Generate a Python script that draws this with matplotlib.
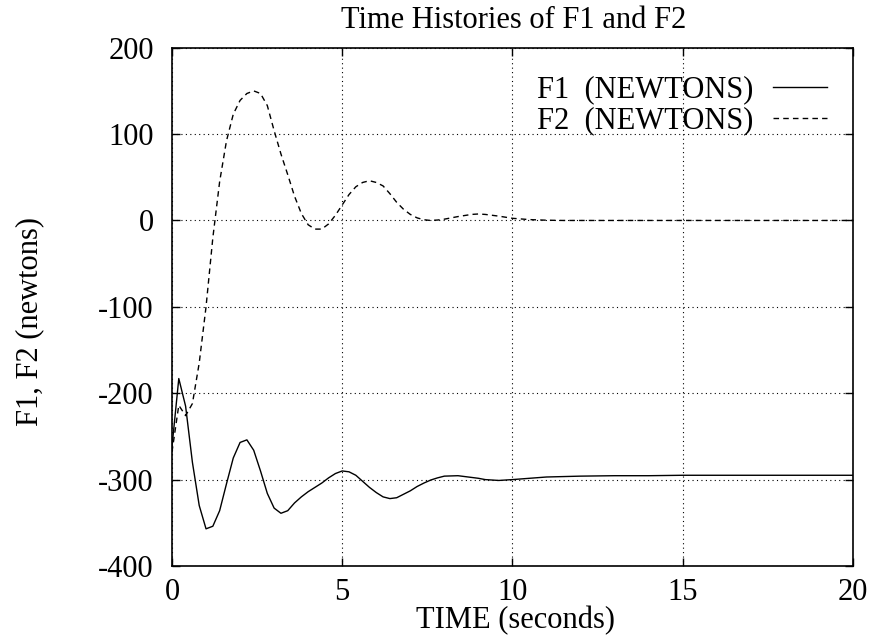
import matplotlib
matplotlib.use("Agg")
from matplotlib import pyplot as plt

# time points (seconds)
t = [0, 0.2, 0.4, 0.6, 0.8, 1.0, 1.2, 1.4, 1.6, 1.8, 2.0, 2.2, 2.4, 2.6, 2.8,
     3.0, 3.2, 3.4, 3.6, 3.8, 4.0, 4.2, 4.4, 4.6, 4.8, 5.0, 5.2, 5.4, 5.6, 5.8,
     6.0, 6.2, 6.4, 6.6, 6.8, 7.0, 7.2, 7.4, 7.6, 7.8, 8.0, 8.4, 8.8, 9.0, 9.2,
     9.6, 10.0, 10.5, 11.0, 11.5, 12.0, 13.0, 14.0, 15.0, 16.0, 17.0, 18.0,
     19.0, 20.0]

f1 = [-262, -183, -215, -280, -330, -357, -354, -336, -305, -275, -257, -254,
      -266, -290, -316, -333, -339, -336, -327, -320, -314, -309, -304, -298,
      -293, -290, -291, -295, -302, -309, -315, -320, -322, -321, -317, -313,
      -308, -304, -300.5, -298, -296, -295.5, -297.5, -298.5, -300, -301, -300,
      -298.5, -297, -296.5, -296, -295.5, -295.5, -295, -295, -295, -295,
      -295, -295]

f2 = [-268, -214, -226, -212, -165, -100, -20, 45, 92, 123, 139, 147, 150,
      147, 133, 104, 77, 53, 28, 8, -5, -10, -10, -4, 6, 18, 30, 39, 44, 46,
      44, 40, 31, 21, 13, 7, 3, 0.8, 0, 0.5, 1.5, 4.5, 7, 7.5, 7, 5, 2.5, 1,
      0.3, 0, 0, 0, 0, 0, 0, 0, 0, 0, 0]

plt.rcParams['font.family'] = ['Liberation Serif', 'DejaVu Serif']
plt.rcParams['axes.unicode_minus'] = False

fig = plt.figure(figsize=(8.73, 6.43), dpi=100)
ax = fig.add_axes([0.197, 0.1198, 0.780, 0.806])

ax.plot(t, f1, color='black', lw=1.0, label='F1  (NEWTONS)')
ax.plot(t, f2, color='black', lw=1.0, dashes=(4, 3), label='F2  (NEWTONS)')

ax.set_xlim(0, 20)
ax.set_ylim(-400, 200)
ax.set_xticks([0, 5, 10, 15, 20])
ax.set_yticks([-400, -300, -200, -100, 0, 100, 200])
ax.grid(True, color='black', linestyle=(0, (1, 3)), linewidth=0.8)
ax.tick_params(direction='in', length=6, width=1, top=True, right=True,
               labelsize=22)
ax.tick_params(axis='y', pad=13)
ax.tick_params(axis='x', pad=9)
for s in ax.spines.values():
    s.set_linewidth(1.2)

fig.text(0.588, 1 - 20 / 643, 'Time Histories of F1 and F2', fontsize=22,
         ha='center', va='center')
fig.text(0.590, 1 - 621 / 643, 'TIME (seconds)', fontsize=22,
         ha='center', va='center')
fig.text(30 / 873, 0.5, 'F1, F2 (newtons)', fontsize=22, rotation=90,
         ha='center', va='center')

ax.legend(loc='upper right', frameon=False, markerfirst=False, fontsize=22,
          handlelength=1.77, handletextpad=0.65, labelspacing=0.05,
          borderpad=0, borderaxespad=0, bbox_to_anchor=(0.962, 0.946))

fig.savefig('out.png', dpi=100)
